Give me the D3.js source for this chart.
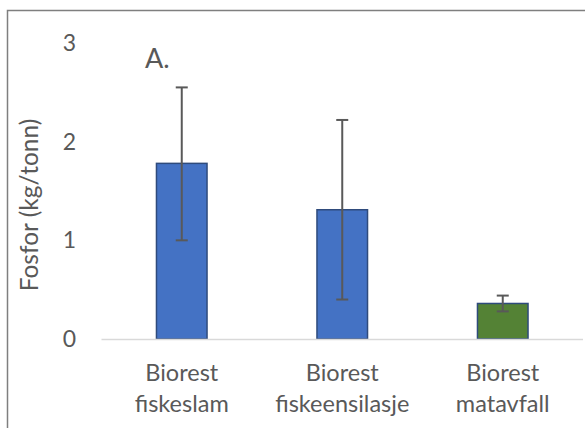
<!DOCTYPE html>
<html>
<head>
<meta charset="utf-8">
<script src="https://d3js.org/d3.v7.min.js"></script>
<style>
  body { margin: 0; background: #fff; }
  text { font-family: Lato, "Open Sans", sans-serif; fill: #595959; }
</style>
</head>
<body>
<div id="chart"></div>
<script>
  // data
  var categories = ["Biorest|fiskeslam", "Biorest|fiskeensilasje", "Biorest|matavfall"];
  var values = [1.78, 1.31, 0.36];
  var errLow = [1.00, 0.40, 0.28];
  var errHigh = [2.55, 2.22, 0.44];
  var colors = ["#4472C4", "#4472C4", "#548235"];
  var yTicks = [0, 1, 2, 3];

  var width = 585;
  var height = 428;

  var svg = d3.select("#chart")
    .append("svg")
    .attr("width", width)
    .attr("height", height);

  // chart frame (runs off the right and bottom edge)
  svg.append("rect")
    .attr("x", 7.5)
    .attr("y", 10.5)
    .attr("width", 590)
    .attr("height", 430)
    .attr("fill", "none")
    .attr("stroke", "#7f7f7f")
    .attr("stroke-width", 1.5);

  var x = d3.scaleBand()
    .domain(categories)
    .range([101.5, 583])
    .paddingInner(0.685)
    .paddingOuter(0.3425);

  var y = d3.scaleLinear()
    .domain([0, 3])
    .range([339, 43]);

  // y tick labels
  var yAxis = svg.append("g")
    .attr("transform", "translate(76,0)")
    .call(d3.axisLeft(y).tickValues(yTicks).tickSize(0).tickPadding(0).tickFormat(d3.format("d")));
  yAxis.select(".domain").remove();
  yAxis.selectAll("text")
    .attr("fill", "#595959")
    .style("font-family", "Lato, 'Open Sans', sans-serif")
    .style("font-size", "23px");

  // bars
  svg.selectAll("rect.bar")
    .data(values)
    .enter()
    .append("rect")
    .attr("class", "bar")
    .attr("x", function(d, i) { return x(categories[i]); })
    .attr("y", function(d) { return y(d); })
    .attr("width", x.bandwidth())
    .attr("height", function(d) { return y(0) - y(d); })
    .attr("fill", function(d, i) { return colors[i]; })
    .attr("stroke", "#2F4B7C")
    .attr("stroke-width", 1.5);

  // baseline
  svg.append("line")
    .attr("x1", 101.5)
    .attr("x2", 583)
    .attr("y1", y(0) + 0.5)
    .attr("y2", y(0) + 0.5)
    .attr("stroke", "#D9D9D9")
    .attr("stroke-width", 1.5);

  // error bars
  var errs = svg.selectAll("g.err")
    .data(values)
    .enter()
    .append("g")
    .attr("class", "err")
    .attr("transform", function(d, i) { return "translate(" + (x(categories[i]) + x.bandwidth() / 2) + ",0)"; });

  errs.append("line")
    .attr("y1", function(d, i) { return y(errLow[i]); })
    .attr("y2", function(d, i) { return y(errHigh[i]); })
    .attr("stroke", "#595959")
    .attr("stroke-width", 2);

  errs.append("line")
    .attr("x1", -6).attr("x2", 6)
    .attr("y1", function(d, i) { return y(errLow[i]); })
    .attr("y2", function(d, i) { return y(errLow[i]); })
    .attr("stroke", "#595959")
    .attr("stroke-width", 2);

  errs.append("line")
    .attr("x1", -6).attr("x2", 6)
    .attr("y1", function(d, i) { return y(errHigh[i]); })
    .attr("y2", function(d, i) { return y(errHigh[i]); })
    .attr("stroke", "#595959")
    .attr("stroke-width", 2);

  // category labels
  var cat = svg.selectAll("text.cat")
    .data(categories)
    .enter()
    .append("text")
    .attr("class", "cat")
    .attr("text-anchor", "middle")
    .style("font-size", "23.5px")
    .attr("x", function(d) { return x(d) + x.bandwidth() / 2; });

  cat.selectAll("tspan")
    .data(function(d) { return d.split("|").map(function(s) { return { s: s, c: d }; }); })
    .enter()
    .append("tspan")
    .attr("x", function(d) { return x(d.c) + x.bandwidth() / 2; })
    .attr("y", function(d, i) { return 381 + i * 31; })
    .text(function(d) { return d.s; });

  // y axis title
  svg.append("text")
    .attr("transform", "translate(38,205) rotate(-90)")
    .attr("text-anchor", "middle")
    .style("font-size", "24.5px")
    .text("Fosfor (kg/tonn)");

  // panel label
  svg.append("text")
    .attr("x", 145)
    .attr("y", 68)
    .style("font-size", "27px")
    .text("A.");
</script>
</body>
</html>
